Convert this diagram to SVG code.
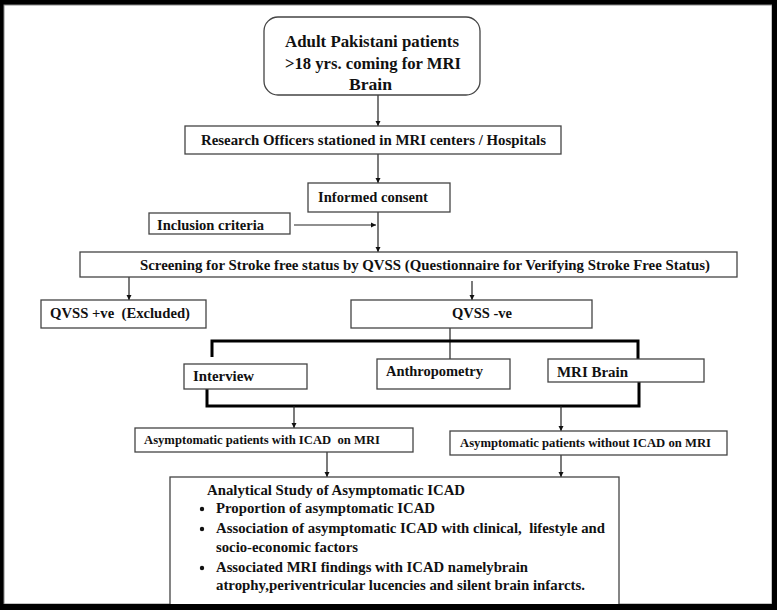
<svg xmlns="http://www.w3.org/2000/svg" width="777" height="610" viewBox="0 0 777 610">
<style>
.box{fill:#fff;stroke:#444;stroke-width:1.3}
.t{font-family:'Liberation Serif','Times New Roman','DejaVu Serif',serif;font-weight:700;fill:#111;white-space:pre}
.ln{stroke:#222;stroke-width:1.2;fill:none}
.br{stroke:#000;stroke-width:3;fill:none}
</style>
<defs>
<marker id="ah" viewBox="0 0 10 10" refX="10" refY="5" markerWidth="5" markerHeight="6" markerUnits="userSpaceOnUse" orient="auto">
<path d="M0,0 L10,5 L0,10 z" fill="#111"/>
</marker>
</defs>
<rect x="0" y="0" width="777" height="610" fill="#000"/>
<rect x="4" y="5" width="768" height="599" fill="#fff" stroke="#888" stroke-width="1"/>

<g id="connectors">
<line class="ln" x1="378" y1="95" x2="378" y2="126" marker-end="url(#ah)"/>
<line class="ln" x1="378" y1="154" x2="378" y2="183" marker-end="url(#ah)"/>
<line class="ln" x1="378" y1="212" x2="378" y2="252" marker-end="url(#ah)"/>
<line class="ln" x1="294" y1="225" x2="376" y2="225" marker-end="url(#ah)"/>
<line class="ln" x1="129" y1="277" x2="129" y2="300" marker-end="url(#ah)"/>
<line class="ln" x1="472" y1="281" x2="472" y2="300" marker-end="url(#ah)"/>
<line class="ln" x1="450" y1="328" x2="450" y2="359"/>
<path class="br" d="M212,357 V341 H638 V359"/>
<path class="br" d="M207,389 V406 H639 V382"/>
<line class="ln" x1="294" y1="406" x2="294" y2="428" marker-end="url(#ah)"/>
<line class="ln" x1="561" y1="406" x2="561" y2="431" marker-end="url(#ah)"/>
<line class="ln" x1="327" y1="452" x2="327" y2="477" marker-end="url(#ah)"/>
<line class="ln" x1="561" y1="455" x2="561" y2="477" marker-end="url(#ah)"/>
</g>

<g id="n-adult">
<rect class="box" x="264" y="17" width="216" height="78" rx="14" ry="14"/>
<text class="t" x="285" y="47" font-size="17" textLength="174" lengthAdjust="spacingAndGlyphs">Adult Pakistani patients</text>
<text class="t" x="285" y="69" font-size="17" textLength="176" lengthAdjust="spacingAndGlyphs">&gt;18 yrs. coming for MRI</text>
<text class="t" x="349" y="90" font-size="17" textLength="43" lengthAdjust="spacingAndGlyphs">Brain</text>
</g>

<g id="n-research">
<rect class="box" x="185" y="126" width="376" height="28"/>
<text class="t" x="201" y="145" font-size="14" textLength="345" lengthAdjust="spacingAndGlyphs">Research Officers stationed in MRI centers / Hospitals</text>
</g>

<g id="n-consent">
<rect class="box" x="308" y="183" width="142" height="29"/>
<text class="t" x="318" y="202" font-size="14.5" textLength="110" lengthAdjust="spacingAndGlyphs">Informed consent</text>
</g>

<g id="n-inclusion">
<rect class="box" x="149" y="213" width="141" height="21"/>
<text class="t" x="157" y="230" font-size="14.5" textLength="107" lengthAdjust="spacingAndGlyphs">Inclusion criteria</text>
</g>

<g id="n-screening">
<rect class="box" x="80" y="252" width="657" height="25"/>
<text class="t" x="140" y="270" font-size="14" textLength="570" lengthAdjust="spacingAndGlyphs">Screening for Stroke free status by QVSS (Questionnaire for Verifying Stroke Free Status)</text>
</g>

<g id="n-qvss-pos">
<rect class="box" x="41" y="300" width="165" height="28"/>
<text class="t" x="50" y="318" font-size="14" textLength="140" lengthAdjust="spacingAndGlyphs">QVSS +ve  (Excluded)</text>
</g>

<g id="n-qvss-neg">
<rect class="box" x="351" y="300" width="241" height="28"/>
<text class="t" x="452" y="318" font-size="14" textLength="60" lengthAdjust="spacingAndGlyphs">QVSS -ve</text>
</g>

<g id="n-interview">
<rect class="box" x="184" y="364" width="123" height="25"/>
<text class="t" x="193" y="381" font-size="14" textLength="61" lengthAdjust="spacingAndGlyphs">Interview</text>
</g>

<g id="n-anthropometry">
<rect class="box" x="377" y="359" width="133" height="30"/>
<text class="t" x="386" y="376" font-size="14" textLength="97" lengthAdjust="spacingAndGlyphs">Anthropometry</text>
</g>

<g id="n-mri">
<rect class="box" x="548" y="359" width="156" height="23"/>
<text class="t" x="557" y="377" font-size="14" textLength="71" lengthAdjust="spacingAndGlyphs">MRI Brain</text>
</g>

<g id="n-with">
<rect class="box" x="135" y="428" width="278" height="24"/>
<text class="t" x="144" y="444" font-size="12" textLength="236" lengthAdjust="spacingAndGlyphs">Asymptomatic patients with ICAD  on MRI</text>
</g>

<g id="n-without">
<rect class="box" x="450" y="431" width="277" height="24"/>
<text class="t" x="460" y="447" font-size="12" textLength="251" lengthAdjust="spacingAndGlyphs">Asymptomatic patients without ICAD on MRI</text>
</g>

<g id="n-analytical">
<rect class="box" x="170" y="477" width="449" height="140"/>
<text class="t" x="207" y="495" font-size="14.5" textLength="258" lengthAdjust="spacingAndGlyphs">Analytical Study of Asymptomatic ICAD</text>
<circle cx="202" cy="509" r="2.2" fill="#111"/>
<text class="t" x="216" y="513" font-size="14.5" textLength="219" lengthAdjust="spacingAndGlyphs">Proportion of asymptomatic ICAD</text>
<circle cx="202" cy="529" r="2.2" fill="#111"/>
<text class="t" x="216" y="533" font-size="14.5" textLength="389" lengthAdjust="spacingAndGlyphs">Association of asymptomatic ICAD with clinical,  lifestyle and</text>
<text class="t" x="216" y="552" font-size="14.5" textLength="142" lengthAdjust="spacingAndGlyphs">socio-economic factors</text>
<circle cx="202" cy="568" r="2.2" fill="#111"/>
<text class="t" x="216" y="572" font-size="14.5" textLength="312" lengthAdjust="spacingAndGlyphs">Associated MRI findings with ICAD namelybrain</text>
<text class="t" x="216" y="590" font-size="14.5" textLength="369" lengthAdjust="spacingAndGlyphs">atrophy,periventricular lucencies and silent brain infarcts.</text>
</g>

<rect x="0" y="604" width="777" height="6" fill="#000"/>
<rect x="772" y="0" width="5" height="610" fill="#000"/>
</svg>
